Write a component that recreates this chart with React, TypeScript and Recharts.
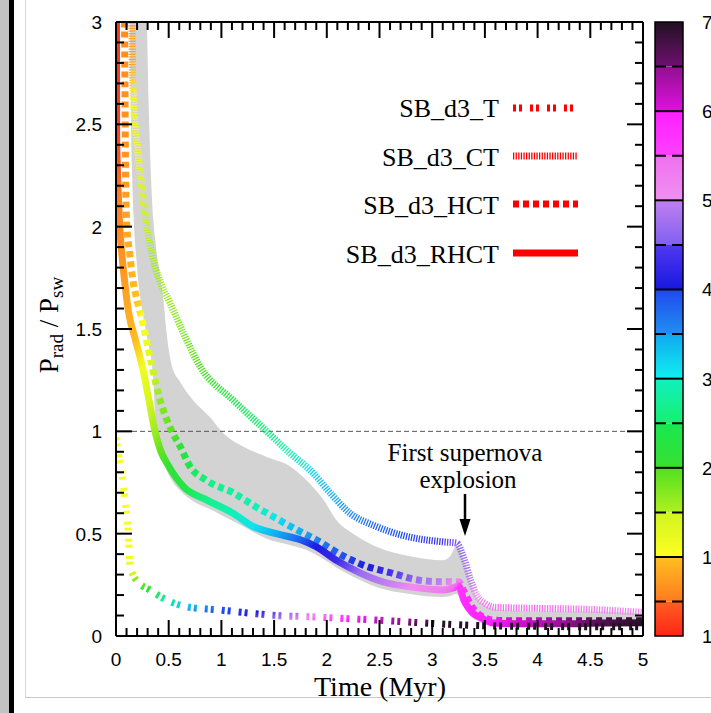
import React from 'react';
import { ComposedChart, Line, Area, XAxis, YAxis, ReferenceLine, ReferenceArea } from 'recharts';

const W = 711;
const H = 713;

// ---------- colour bar (value bands and their colours) ----------
const cbLo = [0.114, 0.5, 1.0, 1.5, 2.0, 2.5, 3.0, 3.5, 4.0, 4.5, 5.0, 5.5, 6.0, 6.5];
const cbHi = [0.5, 1.0, 1.5, 2.0, 2.5, 3.0, 3.5, 4.0, 4.5, 5.0, 5.5, 6.0, 6.5, 7.0];
const cbColLo = ['#ff2418', '#ff7a20', '#ffff20', '#b0f020', '#38e030', '#18f070', '#10f0f0', '#2090f0', '#1818e0', '#8060f0', '#f090f0', '#ff40ff', '#e010e0', '#701070'];
const cbColHi = ['#ff6020', '#ffc020', '#d0f420', '#50e020', '#18e850', '#10f0c0', '#10a8f0', '#2048f0', '#5038f0', '#c080f0', '#f070f0', '#ff20ff', '#901090', '#201020'];
const cbTicks = [0.114, 1, 2, 3, 4, 5, 6, 7];
const cbTickLabels = ['1', '1', '2', '3', '4', '5', '6', '7'];
const cbSolid = [1, 2, 3, 4, 5, 6];
const cbDashed = [0.5, 1.5, 2.5, 3.5, 4.5, 5.5, 6.5];

// ---------- SB_d3_T ----------
const tT = [0, 0.02, 0.054, 0.085, 0.117, 0.133, 0.16, 0.196, 0.32, 0.48, 0.67, 0.99, 1.3, 1.52, 1.84, 2.16, 2.47, 2.73, 2.98, 3.5, 4.0, 4.5, 5.0];
const tV = [0.97, 0.9, 0.8, 0.665, 0.5, 0.34, 0.3, 0.27, 0.225, 0.176, 0.143, 0.127, 0.11, 0.1, 0.094, 0.086, 0.078, 0.07, 0.062, 0.05, 0.047, 0.045, 0.045];
const tC = [1.1, 1.1, 1.1, 1.1, 1.1, 1.2, 1.5, 1.8, 2.2, 2.8, 3.3, 3.95, 4.1, 4.55, 5.1, 5.7, 6.15, 6.5, 6.9, 7.0, 7.0, 7.0, 7.0];

// ---------- SB_d3_CT ----------
const ctT = [0.15, 0.155, 0.165, 0.21, 0.26, 0.34, 0.42, 0.51, 0.64, 0.8, 1.11, 1.43, 1.65, 1.87, 2.03, 2.22, 2.47, 2.73, 3.1, 3.23, 3.3, 3.36, 3.42, 3.5, 3.6, 4.0, 4.5, 5.0];
const ctV = [3.1, 2.8, 2.63, 2.36, 2.12, 1.87, 1.73, 1.63, 1.48, 1.315, 1.153, 1.0, 0.894, 0.796, 0.7, 0.6, 0.535, 0.49, 0.46, 0.454, 0.38, 0.28, 0.2, 0.16, 0.14, 0.135, 0.13, 0.115];
const ctC = [0.7, 0.8, 1.05, 1.15, 1.45, 1.55, 1.6, 1.65, 1.75, 2.0, 2.4, 2.6, 2.9, 3.2, 3.4, 3.55, 3.8, 3.95, 4.4, 4.55, 4.7, 4.9, 5.1, 5.3, 5.5, 5.5, 5.3, 5.1];

// ---------- SB_d3_HCT ----------
const hctT = [0.08, 0.085, 0.09, 0.1, 0.13, 0.16, 0.2, 0.24, 0.275, 0.34, 0.42, 0.53, 0.61, 0.7, 0.86, 1.11, 1.33, 1.52, 1.71, 1.9, 2.16, 2.38, 2.6, 2.85, 3.05, 3.2, 3.25, 3.3, 3.38, 3.46, 3.55, 3.7, 4.0, 4.5, 5.0];
const hctV = [3.1, 2.7, 2.3, 2.03, 1.87, 1.74, 1.64, 1.56, 1.48, 1.32, 1.15, 1.0, 0.925, 0.83, 0.76, 0.7, 0.63, 0.575, 0.52, 0.47, 0.39, 0.34, 0.31, 0.275, 0.265, 0.265, 0.265, 0.22, 0.14, 0.1, 0.08, 0.075, 0.075, 0.075, 0.075];
const hctC = [0.62, 0.65, 0.7, 0.8, 0.88, 0.93, 1.0, 1.05, 1.12, 1.4, 1.7, 1.95, 2.2, 2.4, 2.6, 2.8, 2.95, 3.1, 3.4, 3.6, 3.95, 4.05, 4.4, 4.7, 4.95, 5.1, 5.3, 5.6, 5.8, 5.9, 6.0, 6.1, 6.3, 6.7, 7.0];

// ---------- SB_d3_RHCT ----------
const rhctT = [0.004, 0.006, 0.012, 0.022, 0.035, 0.055, 0.085, 0.12, 0.18, 0.25, 0.31, 0.37, 0.42, 0.5, 0.64, 0.86, 1.11, 1.3, 1.52, 1.75, 1.9, 2.09, 2.31, 2.53, 2.79, 3.1, 3.2, 3.25, 3.3, 3.39, 3.48, 3.56, 3.8, 4.2, 4.6, 5.0];
const rhctV = [3.1, 2.45, 2.3, 2.15, 2.0, 1.87, 1.72, 1.58, 1.455, 1.315, 1.16, 1.0, 0.91, 0.83, 0.73, 0.665, 0.6, 0.535, 0.5, 0.47, 0.436, 0.37, 0.31, 0.265, 0.24, 0.225, 0.235, 0.245, 0.176, 0.11, 0.085, 0.065, 0.06, 0.06, 0.063, 0.065];
const rhctC = [0.2, 0.3, 0.42, 0.52, 0.6, 0.68, 0.76, 0.86, 0.95, 1.15, 1.4, 1.6, 1.9, 2.1, 2.3, 2.65, 2.95, 3.1, 3.45, 3.85, 4.05, 4.3, 4.7, 4.95, 5.1, 5.3, 5.5, 5.6, 5.8, 5.9, 5.95, 6.0, 6.1, 6.4, 6.7, 6.95];

// ---------- grey range band ----------
const bandT = [0.13, 0.15, 0.2, 0.24, 0.27, 0.29, 0.31, 0.355, 0.38, 0.45, 0.48, 0.53, 0.61, 0.73, 0.89, 1.02, 1.21, 1.43, 1.65, 1.81, 1.97, 2.09, 2.25, 2.47, 2.79, 3.1, 3.17, 3.23, 3.3, 3.36, 3.42, 3.5, 3.6, 4.0, 4.5, 5.0];
const bandHi = [3.2, 3.2, 3.2, 3.2, 3.2, 3.05, 2.6, 2.03, 1.9, 1.64, 1.48, 1.32, 1.24, 1.153, 1.07, 0.99, 0.925, 0.875, 0.83, 0.76, 0.665, 0.567, 0.5, 0.436, 0.39, 0.37, 0.39, 0.44, 0.37, 0.27, 0.19, 0.15, 0.13, 0.12, 0.12, 0.11];
const bandLo = [3.1, 2.3, 1.8, 1.62, 1.53, 1.47, 1.42, 1.25, 0.96, 0.85, 0.81, 0.76, 0.71, 0.66, 0.62, 0.585, 0.535, 0.475, 0.445, 0.42, 0.375, 0.335, 0.29, 0.24, 0.205, 0.19, 0.195, 0.205, 0.15, 0.1, 0.075, 0.06, 0.05, 0.05, 0.05, 0.05];

// ---------- axes / legend ----------
const xTicks = Array.from({ length: 51 }, (_, i) => i / 10);
const yTicks = Array.from({ length: 31 }, (_, i) => i / 10);
const legendNames = ['SB_d3_T', 'SB_d3_CT', 'SB_d3_HCT', 'SB_d3_RHCT'];

const SANS = "'Liberation Sans', Arial, Helvetica, sans-serif";
const SERIF = "'Liberation Serif', 'Times New Roman', Times, serif";

function hexToRgb(h: string) {
  const n = parseInt(h.slice(1), 16);
  return [(n >> 16) & 255, (n >> 8) & 255, n & 255];
}
function mix(a: string, b: string, f: number) {
  const A = hexToRgb(a);
  const B = hexToRgb(b);
  const r = A.map((x, i) => Math.round(x + (B[i] - x) * f));
  return `rgb(${r[0]},${r[1]},${r[2]})`;
}
function cmap(c: number) {
  const cc = Math.max(cbLo[0], Math.min(7, c));
  for (let i = 0; i < cbLo.length; i++) {
    if (cc <= cbHi[i] + 1e-9) {
      const f = (cc - cbLo[i]) / (cbHi[i] - cbLo[i]);
      return mix(cbColLo[i], cbColHi[i], Math.max(0, Math.min(1, f)));
    }
  }
  return cbColHi[cbHi.length - 1];
}

// Gradient along the curve: uses the path's bounding box (objectBoundingBox),
// so the stop offsets follow from the data ranges alone.
function gradStops(ts: number[], vs: number[], cs: number[]) {
  const t0 = Math.min(...ts);
  const t1 = Math.max(...ts);
  const vmax = Math.max(...vs);
  const vmin = Math.min(...vs);
  let last = 0;
  return ts.map((t, i) => {
    let off = 0.5 * ((t - t0) / (t1 - t0) + (vmax - vs[i]) / (vmax - vmin));
    off = Math.max(last, Math.min(1, off));
    last = off;
    return { off, color: cmap(cs[i]) };
  });
}

const styleT = { w: 7, dash: '3 3 3 8' };
const styleCT = { w: 7, dash: '1.3 1.3' };
const styleHCT = { w: 7, dash: '6 4' };
const styleRHCT = { w: 7, dash: undefined as string | undefined };

const seriesDefs = [
  { key: 'ct', data: ctT.map((t, i) => ({ t, v: ctV[i] })), stops: gradStops(ctT, ctV, ctC), st: styleCT },
  { key: 'hct', data: hctT.map((t, i) => ({ t, v: hctV[i] })), stops: gradStops(hctT, hctV, hctC), st: styleHCT },
  { key: 'rhct', data: rhctT.map((t, i) => ({ t, v: rhctV[i] })), stops: gradStops(rhctT, rhctV, rhctC), st: styleRHCT },
  { key: 't', data: tT.map((t, i) => ({ t, v: tV[i] })), stops: gradStops(tT, tV, tC), st: styleT },
];

const bandData = bandT.map((t, i) => ({ t, range: [bandLo[i], bandHi[i]] }));

const isMajor = (v: number) => Math.abs(v * 2 - Math.round(v * 2)) < 1e-6;
const fmt = (v: number) => String(Math.round(v * 10) / 10);

const BottomTick = (p: any) => {
  const v = p.payload.value;
  const M = isMajor(v);
  return (
    <g>
      <line x1={p.x} x2={p.x} y1={p.y} y2={p.y - (M ? 16 : 8)} stroke="#000" strokeWidth={2} />
      {M && (
        <text x={p.x} y={p.y + 30} textAnchor="middle" fontFamily={SANS} fontSize={19} fill="#000">
          {fmt(v)}
        </text>
      )}
    </g>
  );
};
const TopTick = (p: any) => {
  const M = isMajor(p.payload.value);
  return <line x1={p.x} x2={p.x} y1={p.y} y2={p.y + (M ? 16 : 8)} stroke="#000" strokeWidth={2} />;
};
const LeftTick = (p: any) => {
  const v = p.payload.value;
  const M = isMajor(v);
  return (
    <g>
      <line x1={p.x} x2={p.x + (M ? 16 : 8)} y1={p.y} y2={p.y} stroke="#000" strokeWidth={2} />
      {M && (
        <text x={p.x - 14} y={p.y + 7} textAnchor="end" fontFamily={SANS} fontSize={19} fill="#000">
          {fmt(v)}
        </text>
      )}
    </g>
  );
};
const RightTick = (p: any) => {
  const M = isMajor(p.payload.value);
  return <line x1={p.x} x2={p.x - (M ? 16 : 8)} y1={p.y} y2={p.y} stroke="#000" strokeWidth={2} />;
};
const CbTick = (p: any) => {
  const idx = cbTicks.findIndex((v) => Math.abs(v - p.payload.value) < 1e-6);
  return (
    <text x={p.x + 19} y={p.y + 7} textAnchor="start" fontFamily={SANS} fontSize={19} fill="#000">
      {idx >= 0 ? cbTickLabels[idx] : ''}
    </text>
  );
};

const legendStyles = [styleT, styleCT, styleHCT, styleRHCT];
const legendBase = [117, 166, 214, 263];
const legendLineY = [108, 156, 204, 253];

export default function App() {
  return (
    <div style={{ position: 'absolute', left: 0, top: 0, width: W, height: H, background: '#fff', overflow: 'hidden' }}>
      {/* screenshot frame decorations */}
      <div style={{ position: 'absolute', left: 0, top: 0, width: 9, height: H, background: '#c2c2c2' }} />
      <div style={{ position: 'absolute', left: 9, top: 0, width: 5, height: H, background: '#000' }} />
      <div style={{ position: 'absolute', left: 25, top: 0, width: 1, height: 697, background: '#d8d8d8' }} />
      <div style={{ position: 'absolute', left: 25, top: 697, width: W - 25, height: 1, background: '#c8c8c8' }} />

      <div style={{ position: 'absolute', left: 0, top: 0 }}>
        <ComposedChart width={W} height={H} margin={{ top: 12, right: 58, bottom: 47, left: 56 }}>
          <defs>
            {seriesDefs.map((s) => (
              <linearGradient key={s.key} id={`grad-${s.key}`} x1="0" y1="0" x2="1" y2="1">
                {s.stops.map((st, i) => (
                  <stop key={i} offset={st.off} stopColor={st.color} />
                ))}
              </linearGradient>
            ))}
          </defs>
          <XAxis
            xAxisId="b"
            type="number"
            dataKey="t"
            domain={[0, 5]}
            ticks={xTicks}
            interval={0}
            height={30}
            tickSize={0}
            tickMargin={0}
            tickLine={false}
            axisLine={{ stroke: '#000', strokeWidth: 2 }}
            tick={BottomTick}
            allowDataOverflow
          />
          <XAxis
            xAxisId="top"
            orientation="top"
            type="number"
            dataKey="t"
            domain={[0, 5]}
            ticks={xTicks}
            interval={0}
            height={10}
            tickSize={0}
            tickMargin={0}
            tickLine={false}
            axisLine={{ stroke: '#000', strokeWidth: 2 }}
            tick={TopTick}
            allowDataOverflow
          />
          <YAxis
            yAxisId="l"
            type="number"
            domain={[0, 3]}
            ticks={yTicks}
            interval={0}
            width={60}
            tickSize={0}
            tickMargin={0}
            tickLine={false}
            axisLine={{ stroke: '#000', strokeWidth: 2 }}
            tick={LeftTick}
            allowDataOverflow
          />
          <YAxis
            yAxisId="r"
            orientation="right"
            type="number"
            domain={[0, 3]}
            ticks={yTicks}
            interval={0}
            width={10}
            tickSize={0}
            tickMargin={0}
            tickLine={false}
            axisLine={{ stroke: '#000', strokeWidth: 2 }}
            tick={RightTick}
            allowDataOverflow
          />
          <Area
            xAxisId="b"
            yAxisId="l"
            data={bandData}
            dataKey="range"
            type="monotone"
            stroke="none"
            fill="#d3d3d3"
            fillOpacity={1}
            isAnimationActive={false}
            legendType="none"
            activeDot={false}
            dot={false}
          />
          <ReferenceLine xAxisId="b" yAxisId="l" y={1} stroke="#555" strokeWidth={1} strokeDasharray="5 3" />
          {seriesDefs.map((s) => (
            <Line
              key={s.key}
              xAxisId="b"
              yAxisId="l"
              data={s.data}
              dataKey="v"
              type="monotone"
              stroke={`url(#grad-${s.key})`}
              strokeWidth={s.st.w}
              strokeDasharray={s.st.dash}
              strokeLinejoin="round"
              dot={false}
              activeDot={false}
              isAnimationActive={false}
              legendType="none"
            />
          ))}
        </ComposedChart>
      </div>

      {/* colour bar */}
      <div style={{ position: 'absolute', left: 0, top: 0 }}>
        <ComposedChart width={W} height={H} data={[{ x: 0 }, { x: 1 }]} margin={{ top: 22, right: 8, bottom: 77, left: 655 }}>
          <defs>
            {cbLo.map((lo, i) => (
              <linearGradient key={i} id={`cbg${i}`} x1="0" y1="1" x2="0" y2="0">
                <stop offset="0" stopColor={cbColLo[i]} />
                <stop offset="1" stopColor={cbColHi[i]} />
              </linearGradient>
            ))}
          </defs>
          <XAxis type="number" dataKey="x" domain={[0, 1]} hide />
          <YAxis
            type="number"
            orientation="right"
            domain={[0.114, 7]}
            ticks={cbTicks}
            interval={0}
            width={20}
            tickSize={0}
            tickMargin={0}
            tickLine={false}
            axisLine={false}
            tick={CbTick}
            allowDataOverflow
          />
          {cbLo.map((lo, i) => (
            <ReferenceArea key={`b${i}`} y1={lo} y2={cbHi[i]} fill={`url(#cbg${i})`} fillOpacity={1} stroke="none" />
          ))}
          {cbSolid.map((v) => (
            <ReferenceLine key={`s${v}`} y={v} stroke="#000" strokeWidth={2} />
          ))}
          {cbDashed.map((v) => (
            <ReferenceLine key={`d${v}`} y={v} stroke="#000" strokeWidth={2} strokeDasharray="11 6" />
          ))}
          <ReferenceArea y1={0.114} y2={7} fill="none" fillOpacity={0} stroke="#000" strokeWidth={1.5} />
        </ComposedChart>
      </div>

      {/* text overlay: legend, annotation, axis titles */}
      <svg width={W} height={H} style={{ position: 'absolute', left: 0, top: 0, pointerEvents: 'none' }}>
        {legendNames.map((n, i) => (
          <g key={n}>
            <text x={499} y={legendBase[i]} textAnchor="end" fontFamily={SERIF} fontSize={26} fill="#000">
              {n}
            </text>
            <line
              x1={513}
              x2={578}
              y1={legendLineY[i]}
              y2={legendLineY[i]}
              stroke="#ff0000"
              strokeWidth={legendStyles[i].w}
              strokeDasharray={legendStyles[i].dash}
            />
          </g>
        ))}
        <text x={465} y={461} textAnchor="middle" fontFamily={SERIF} fontSize={25} fill="#000">
          First supernova
        </text>
        <text x={468} y={488} textAnchor="middle" fontFamily={SERIF} fontSize={25} fill="#000">
          explosion
        </text>
        <line x1={465} x2={465} y1={494} y2={522} stroke="#000" strokeWidth={2.5} />
        <polygon points="459.5,519 470.5,519 465,536" fill="#000" />
        <text x={380} y={696} textAnchor="middle" fontFamily={SERIF} fontSize={28} fill="#000">
          Time (Myr)
        </text>
        <text x={58} y={325} transform="rotate(-90 58 325)" textAnchor="middle" fontFamily={SERIF} fontSize={27} fill="#000">
          <tspan>P</tspan>
          <tspan fontSize={19} dy={5}>rad</tspan>
          <tspan dy={-5}> / P</tspan>
          <tspan fontSize={19} dy={5}>sw</tspan>
        </text>
      </svg>
    </div>
  );
}
